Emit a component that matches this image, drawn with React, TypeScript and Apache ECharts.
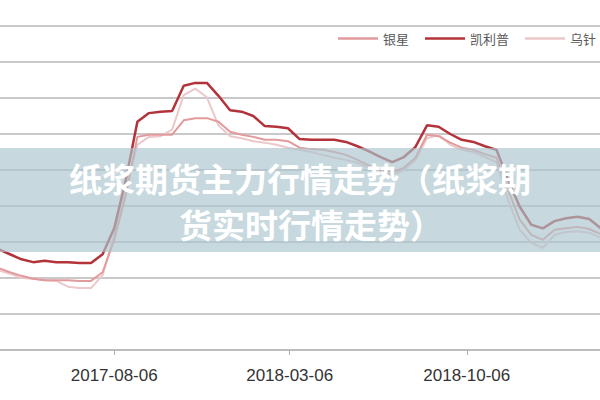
import React, { useEffect, useRef } from "react";
import * as echarts from "echarts";

const dates = [
  "2017-03-19", "2017-04-02", "2017-04-16", "2017-04-30", "2017-05-14", "2017-05-28", "2017-06-11", "2017-06-25",
  "2017-07-09", "2017-07-23", "2017-08-06", "2017-08-20", "2017-09-03", "2017-09-17", "2017-10-01", "2017-10-15",
  "2017-10-29", "2017-11-12", "2017-11-26", "2017-12-10", "2017-12-24", "2018-01-07", "2018-01-21", "2018-02-04",
  "2018-02-18", "2018-03-04", "2018-03-18", "2018-04-01", "2018-04-15", "2018-04-29", "2018-05-13", "2018-05-27",
  "2018-06-10", "2018-06-24", "2018-07-08", "2018-07-22", "2018-08-05", "2018-08-19", "2018-09-02", "2018-09-16",
  "2018-09-30", "2018-10-14", "2018-10-28", "2018-11-11", "2018-11-25", "2018-12-09", "2018-12-23", "2019-01-06",
  "2019-01-20", "2019-02-03", "2019-02-17", "2019-03-03", "2019-03-17",
];

const yinxing = [
  4640, 4580, 4530, 4490, 4470, 4470, 4470, 4460, 4460, 4580, 5030, 5650, 6460, 6490, 6490, 6490,
  6690, 6720, 6720, 6670, 6530, 6490, 6460, 6420, 6420, 6400, 6310, 6290, 6280, 6250, 6210, 6140,
  6060, 6000, 5970, 6030, 6170, 6490, 6470, 6380, 6310, 6280, 6220, 6170, 5720, 5310, 5100, 5030,
  5170, 5190, 5210, 5180, 5110,
];

const kailipu = [
  4900, 4830, 4760, 4720, 4740, 4720, 4720, 4710, 4710, 4830, 5190, 5860, 6670, 6790, 6810, 6820,
  7170, 7210, 7210, 7030, 6830, 6810, 6750, 6610, 6600, 6580, 6430, 6420, 6420, 6420, 6390, 6330,
  6260, 6180, 6110, 6180, 6320, 6620, 6600, 6500, 6420, 6390, 6330, 6280, 5860, 5490, 5240, 5190,
  5290, 5330, 5350, 5320, 5190,
];

const wuzhen = [
  4610, 4560, 4500, 4490, 4470, 4460, 4380, 4360, 4360, 4540, 5100, 5720, 6350, 6460, 6470, 6560,
  7040, 7130, 7010, 6620, 6470, 6440, 6400, 6380, 6350, 6310, 6280, 6250, 6210, 6170, 6140, 6100,
  6030, 5970, 5930, 6000, 6140, 6440, 6490, 6350, 6280, 6250, 6180, 6110, 5580, 5170, 4990, 4920,
  5100, 5140, 5150, 5130, 5060,
];

const seriesNames = ["银星", "凯利普", "乌针"];
const tickLabels = ["2017-08-06", "2018-03-06", "2018-10-06"];
const axisRange = ["2017-03-21", "2019-03-16"];
const titleLines = ["纸浆期货主力行情走势（纸浆期", "货实时行情走势）"];

function toTs(s: string): number {
  const [y, m, d] = s.split("-").map(Number);
  return new Date(y, m - 1, d).getTime();
}

function pad(n: number): string {
  return n < 10 ? "0" + n : "" + n;
}

function fmt(v: number): string {
  const dt = new Date(v);
  return dt.getFullYear() + "-" + pad(dt.getMonth() + 1) + "-" + pad(dt.getDate());
}

export default function App() {
  const ref = useRef<HTMLDivElement>(null);

  useEffect(() => {
    if (!ref.current) return;
    const chart = echarts.init(ref.current, undefined, { renderer: "svg" });
    const ts = dates.map(toTs);
    const mk = (vals: number[]) => vals.map((v, i) => [ts[i], v]);
    const tickTs = tickLabels.map(toTs);

    chart.setOption({
      animation: false,
      backgroundColor: "#ffffff",
      legend: {
        left: 333,
        top: 27,
        width: 400,
        icon: "rect",
        itemWidth: 40,
        itemHeight: 2.5,
        itemGap: 16,
        textStyle: { fontSize: 13, color: "#5a5a5a", fontFamily: "Noto Sans CJK SC", padding: [0, 0, 0, 0] },
        data: seriesNames,
      },
      grid: { left: 0, right: 0, top: 26, bottom: 50 },
      xAxis: {
        type: "value",
        min: toTs(axisRange[0]),
        max: toTs(axisRange[1]),
        axisLine: { show: true, lineStyle: { color: "#bdbdbd", width: 2 } },
        axisTick: { show: true, customValues: tickTs, length: 5, lineStyle: { color: "#b0b0b0", width: 1 } },
        axisLabel: {
          customValues: tickTs,
          formatter: (v: number) => fmt(v),
          fontSize: 17,
          color: "#333333",
          fontFamily: "Liberation Sans",
          margin: 17,
        },
        splitLine: { show: false },
      },
      yAxis: {
        type: "value",
        min: 3500,
        max: 8000,
        interval: 500,
        axisLabel: { show: false },
        axisLine: { show: false },
        axisTick: { show: false },
        splitLine: { show: true, lineStyle: { color: "#c9c9c9", width: 2 } },
      },
      series: [
        {
          name: seriesNames[0],
          type: "line",
          data: mk(yinxing),
          symbol: "none",
          lineStyle: { color: "#e39a9c", width: 2 },
          itemStyle: { color: "#e39a9c" },
          z: 3,
        },
        {
          name: seriesNames[1],
          type: "line",
          data: mk(kailipu),
          symbol: "none",
          lineStyle: { color: "#b3333a", width: 2.5 },
          itemStyle: { color: "#b3333a" },
          z: 4,
        },
        {
          name: seriesNames[2],
          type: "line",
          data: mk(wuzhen),
          symbol: "none",
          lineStyle: { color: "#ecc8cb", width: 2 },
          itemStyle: { color: "#ecc8cb" },
          z: 2,
        },
      ],
      graphic: [
        {
          type: "rect",
          z: 100,
          shape: { x: 0, y: 148, width: 600, height: 104 },
          style: { fill: "rgba(170,197,205,0.66)" },
        },
        {
          type: "text",
          z: 101,
          x: 300,
          y: 178,
          style: {
            text: titleLines[0],
            fontSize: 33,
            fontWeight: "bold",
            fontFamily: "Noto Sans CJK SC",
            fill: "#ffffff",
            align: "center",
            verticalAlign: "middle",
            lineHeight: 38,
          },
        },
        {
          type: "text",
          z: 101,
          x: 311,
          y: 224,
          style: {
            text: titleLines[1],
            fontSize: 33,
            fontWeight: "bold",
            fontFamily: "Noto Sans CJK SC",
            fill: "#ffffff",
            align: "center",
            verticalAlign: "middle",
            lineHeight: 38,
          },
        },
      ],
    });

    return () => {
      chart.dispose();
    };
  }, []);

  return (
    <div
      ref={ref}
      style={{ position: "fixed", left: 0, top: 0, width: 600, height: 400, background: "#fff" }}
    />
  );
}
